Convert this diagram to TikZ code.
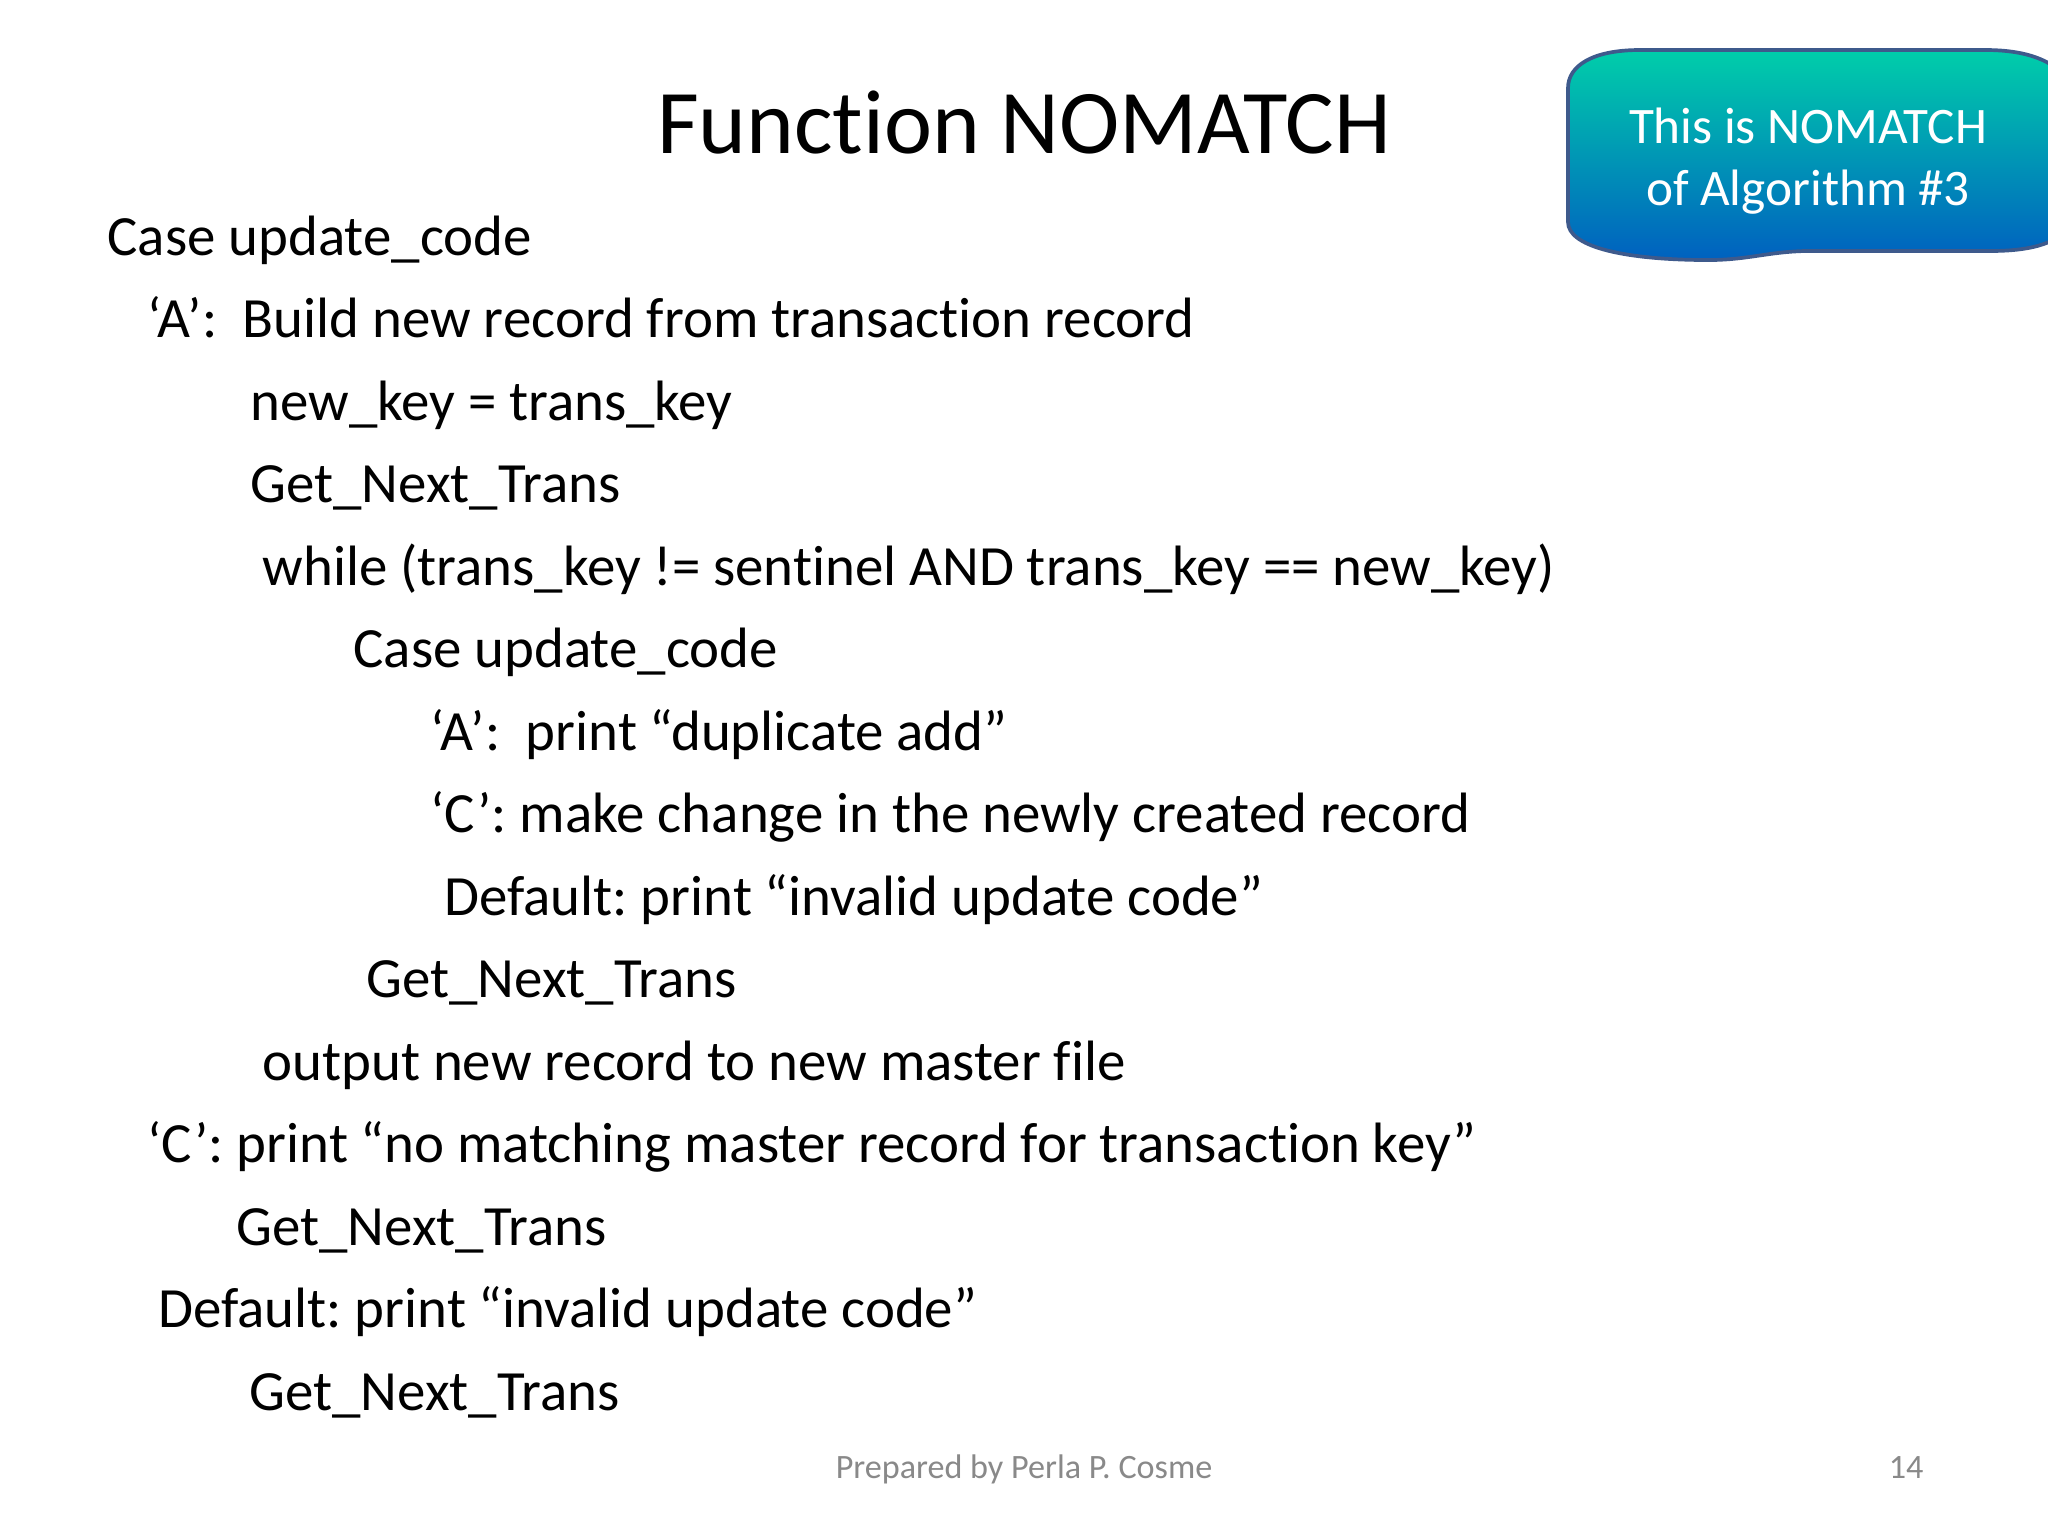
\documentclass[tikz,border=0pt]{standalone}
\usepackage{fontspec}
\setmainfont{Carlito}[Ligatures={NoCommon,NoContextual}]
\definecolor{calltop}{RGB}{0,206,170}
\definecolor{callbot}{RGB}{0,96,192}
\definecolor{callborder}{RGB}{62,90,140}
\definecolor{footgrey}{RGB}{137,137,137}
\frenchspacing
\begin{document}
\begin{tikzpicture}[x=0.3516pt,y=-0.3516pt,
  codeline/.style={anchor=base west,inner sep=0pt,font=\fontsize{20}{24}\selectfont},
  titletext/.style={anchor=base,inner sep=0pt,font=\fontsize{32}{38}\selectfont},
  calltext/.style={anchor=base,inner sep=0pt,text=white,font=\fontsize{18}{22}\selectfont},
  foottext/.style={inner sep=0pt,text=footgrey,font=\fontsize{12}{14}\selectfont}]
\fill[white] (0,0) rectangle (2048,1536);
\useasboundingbox (0,0) rectangle (2048,1536);

% title
\node[titletext] (title) at (1024,153) {Function NOMATCH};

% callout
\path[draw=callborder,line width=1.3pt,top color=calltop,bottom color=callbot]
  (1568,88) -- (1568,222)
  .. controls (1568,246) and (1620,259) .. (1700,260)
  .. controls (1745,261) and (1765,252) .. (1805,251)
  -- (1990,251)
  .. controls (2035,251) and (2060,242) .. (2075,222)
  -- (2075,90)
  .. controls (2060,62) and (2030,50) .. (1985,50)
  -- (1640,50)
  .. controls (1592,50) and (1568,66) .. (1568,88) -- cycle;
\node[calltext] (call1) at (1808,143) {This is NOMATCH};
\node[calltext] (call2) at (1808,205) {of Algorithm \#3};

% code lines
\node[codeline] (l1)  at (107,255)    {Case update\_code};
\node[codeline] (l2)  at (147,337.5)  {‘A’:\ \ Build new record from transaction record};
\node[codeline] (l3)  at (250,420)    {new\_key = trans\_key};
\node[codeline] (l4)  at (250,502.5)  {Get\_Next\_Trans};
\node[codeline] (l5)  at (262,585)    {while (trans\_key != sentinel AND trans\_key == new\_key)};
\node[codeline] (l6)  at (353,667.5)  {Case update\_code};
\node[codeline] (l7)  at (430,750)    {‘A’:\ \ print “duplicate add”};
\node[codeline] (l8)  at (430,832.5)  {‘C’: make change in the newly created record};
\node[codeline] (l9)  at (444,915)    {Default: print “invalid update code”};
\node[codeline] (l10) at (366,997.5)  {Get\_Next\_Trans};
\node[codeline] (l11) at (262,1080)   {output new record to new master file};
\node[codeline] (l12) at (147,1162.5) {‘C’: print “no matching master record for transaction key”};
\node[codeline] (l13) at (236,1245)   {Get\_Next\_Trans};
\node[codeline] (l14) at (158,1327.5) {Default: print “invalid update code”};
\node[codeline] (l15) at (249,1410)   {Get\_Next\_Trans};

% footer
\node[foottext,anchor=base] (foot) at (1024,1478) {Prepared by Perla P. Cosme};
\node[foottext,anchor=base east] (page) at (1924,1478) {14};
\end{tikzpicture}
\end{document}
